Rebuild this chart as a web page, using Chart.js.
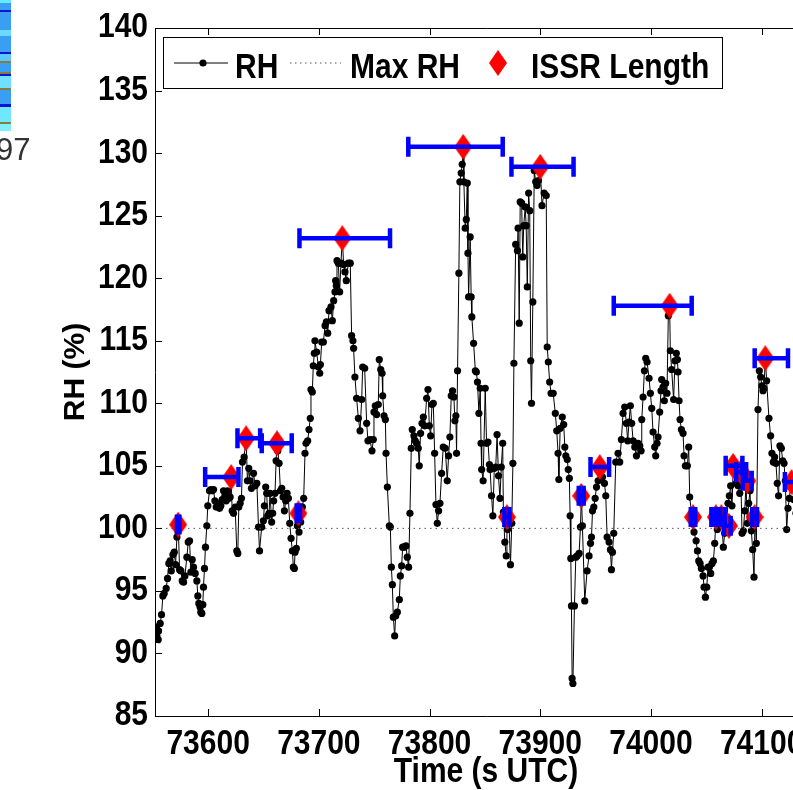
<!DOCTYPE html>
<html>
<head>
<meta charset="utf-8">
<script src="https://cdn.jsdelivr.net/npm/chart.js@4.4.0/dist/chart.umd.min.js"></script>
<style>
  html, body { margin: 0; padding: 0; background: #fff; overflow: hidden; }
  #wrap { position: relative; width: 793px; height: 790px; overflow: hidden; }
  #graph { position: absolute; left: 0; top: 0; }
  #strip {
    position: absolute; left: 0; top: 0; width: 11px; height: 131px;
    background: linear-gradient(to bottom,
      #66e8ff 0 3px, #3a9ef2 3px 10px, #0a14d8 10px 12px, #3a9ef2 12px 30px,
      #6fd8ff 30px 36px, #3a9ef2 36px 52px, #0a14d8 52px 54px, #5cc8ff 54px 61px,
      #8a7a3c 61px 63px, #3a9ef2 63px 72px, #8a7a3c 72px 74px, #0a14d8 74px 76px,
      #6fe0ff 76px 88px, #8a7a3c 88px 90px, #3a9ef2 90px 104px, #0a14d8 104px 107px,
      #6fe8ff 107px 122px, #8a7a3c 122px 124px, #7ff0ff 124px 131px);
  }
  #frag { position: absolute; left: -4px; top: 132px; font: 31px "Liberation Sans", Arial, sans-serif; color: #333; }
</style>
</head>
<body>
<div id="wrap">
  <canvas id="graph" width="817" height="790"></canvas>
  <div id="strip"></div>
  <div id="frag">97</div>
</div>
<script>
// RH samples (s UTC, %)
const rhTime = [
  73553.1, 73553.7, 73554.9, 73555.2, 73556.7, 73557.9, 73559.1, 73560.3, 73562.1, 73563.3,
  73564.5, 73565.7, 73566.7, 73568.2, 73569.4, 73570.6, 73571.8, 73573.0, 73574.2, 73575.4,
  73576.6, 73577.8, 73579.0, 73580.8, 73582.0, 73583.2, 73584.4, 73585.6, 73586.8, 73588.3,
  73589.8, 73590.7, 73591.6, 73592.8, 73593.4, 73594.3, 73595.2, 73595.8, 73596.7, 73597.6,
  73598.8, 73599.7, 73601.2, 73602.4, 73603.6, 73604.9, 73606.1, 73607.3, 73608.5, 73610.3,
  73611.5, 73612.7, 73613.9, 73615.1, 73616.3, 73617.5, 73618.7, 73619.9, 73620.8, 73621.7,
  73622.9, 73624.4, 73625.9, 73626.8, 73627.7, 73628.9, 73630.1, 73631.0, 73632.5, 73634.3,
  73635.5, 73636.7, 73637.9, 73639.1, 73641.0, 73642.5, 73644.0, 73645.5, 73646.4, 73648.4,
  73649.9, 73650.8, 73652.0, 73652.9, 73653.8, 73655.0, 73655.9, 73657.4, 73658.3, 73659.2,
  73660.4, 73661.4, 73662.3, 73662.9, 73664.1, 73665.3, 73666.5, 73667.7, 73668.9, 73670.1,
  73671.3, 73672.5, 73673.7, 73674.9, 73676.1, 73677.0, 73677.9, 73678.5, 73679.7, 73680.6,
  73681.5, 73682.1, 73683.6, 73685.1, 73686.3, 73687.5, 73688.4, 73689.9, 73691.1, 73692.3,
  73692.9, 73694.1, 73695.0, 73695.9, 73696.5, 73698.0, 73699.6, 73700.8, 73701.4, 73702.6,
  73704.1, 73705.6, 73706.8, 73708.0, 73709.2, 73711.0, 73712.2, 73713.4, 73714.6, 73715.2,
  73715.8, 73716.4, 73717.6, 73718.8, 73720.0, 73721.2, 73722.4, 73723.6, 73724.8, 73726.6,
  73728.4, 73729.6, 73730.8, 73731.4, 73732.6, 73734.1, 73735.7, 73737.2, 73738.7, 73739.6,
  73741.4, 73743.2, 73744.4, 73746.2, 73748.0, 73749.2, 73749.8, 73751.0, 73752.2, 73753.7,
  73754.6, 73755.9, 73757.1, 73757.7, 73758.9, 73760.1, 73760.7, 73761.9, 73763.7, 73764.6,
  73765.5, 73766.4, 73767.3, 73768.5, 73769.4, 73770.9, 73772.7, 73773.6, 73774.8, 73775.7,
  73776.9, 73778.7, 73779.9, 73781.1, 73782.3, 73783.5, 73784.4, 73785.9, 73787.1, 73788.3,
  73789.8, 73790.7, 73791.9, 73793.2, 73794.4, 73795.6, 73797.4, 73798.6, 73799.8, 73801.0,
  73802.2, 73803.4, 73804.6, 73805.8, 73807.0, 73808.2, 73809.4, 73810.9, 73812.4, 73814.2,
  73816.0, 73817.2, 73818.4, 73819.6, 73820.8, 73822.0, 73822.9, 73823.8, 73824.4, 73825.3,
  73826.5, 73827.4, 73828.6, 73829.5, 73830.4, 73831.0, 73832.2, 73833.2, 73834.1, 73834.7,
  73835.3, 73836.7, 73837.6, 73838.2, 73839.8, 73841.4, 73842.3, 73843.3, 73844.6, 73845.8,
  73846.5, 73847.1, 73848.4, 73850.3, 73851.5, 73852.8, 73854.1, 73854.7, 73856.0, 73857.2,
  73858.5, 73859.8, 73861.0, 73862.3, 73863.6, 73864.8, 73866.1, 73866.7, 73868.0, 73869.3,
  73869.9, 73870.5, 73871.8, 73873.1, 73874.3, 73875.3, 73876.2, 73877.8, 73879.4, 73880.0,
  73881.0, 73881.9, 73883.2, 73884.2, 73885.1, 73886.4, 73887.3, 73888.3, 73889.5, 73890.5,
  73891.4, 73892.1, 73893.3, 73894.6, 73895.9, 73897.1, 73898.4, 73900.0, 73901.6, 73903.5,
  73905.4, 73906.3, 73907.3, 73908.5, 73909.8, 73911.7, 73913.6, 73914.9, 73916.1, 73916.8,
  73918.0, 73919.9, 73921.2, 73922.2, 73923.1, 73924.4, 73925.3, 73926.3, 73927.0, 73927.6,
  73928.2, 73928.8, 73929.5, 73930.9, 73932.1, 73933.3, 73935.1, 73936.3, 73937.2, 73938.1,
  73940.2, 73942.3, 73944.1, 73945.4, 73946.3, 73947.2, 73948.4, 73949.6, 73950.8, 73952.3,
  73953.8, 73955.0, 73956.2, 73958.0, 73959.2, 73960.4, 73962.2, 73963.4, 73964.3, 73965.2,
  73966.4, 73968.2, 73970.3, 73971.8, 73973.3, 73974.8, 73976.3, 73977.8, 73979.0, 73980.2,
  73981.4, 73982.6, 73983.9, 73985.4, 73986.9, 73988.4, 73989.9, 73991.1, 73991.7, 73992.9,
  73994.1, 73995.3, 73996.5, 73998.3, 73999.5, 74000.7, 74001.9, 74003.4, 74004.3, 74005.5,
  74006.4, 74007.9, 74009.1, 74009.7, 74010.9, 74012.1, 74013.3, 74014.5, 74015.7, 74016.9,
  74017.5, 74018.7, 74020.5, 74021.7, 74022.9, 74023.9, 74024.5, 74025.4, 74026.3, 74027.5,
  74029.0, 74029.9, 74031.1, 74032.9, 74034.1, 74035.0, 74037.1, 74038.9, 74040.8, 74042.0,
  74043.2, 74044.4, 74045.6, 74047.1, 74048.0, 74049.2, 74050.4, 74051.6, 74052.8, 74054.0,
  74055.2, 74056.4, 74057.6, 74058.8, 74060.0, 74061.2, 74062.4, 74063.6, 74065.4, 74066.6,
  74068.1, 74069.6, 74070.8, 74072.0, 74073.2, 74074.4, 74075.6, 74077.1, 74078.7, 74080.2,
  74081.1, 74082.3, 74083.5, 74084.7, 74085.9, 74087.1, 74088.3, 74089.5, 74090.7, 74091.9,
  74093.1, 74094.0, 74095.2, 74096.7, 74097.9, 74099.1, 74100.3, 74101.2, 74102.1, 74103.3,
  74104.5, 74106.6, 74108.1, 74109.3, 74110.5, 74111.7, 74112.9, 74114.1, 74115.3, 74116.5,
  74117.8, 74119.0, 74120.2, 74121.4, 74122.6, 74123.8, 74125.0, 74126.2, 74127.3, 74129.0,
  74131.0
];
const rhValue = [
  92.1, 91.4, 91.1, 91.8, 92.4, 93.1, 94.6, 94.8, 95.2, 96.0,
  97.2, 97.4, 96.6, 97.9, 98.1, 97.1, 99.3, 100.3, 96.7, 96.6,
  95.8, 95.7, 96.2, 97.7, 98.9, 99.0, 96.5, 97.5, 96.9, 96.4,
  95.8, 94.6, 94.0, 93.7, 93.3, 93.2, 93.9, 95.3, 96.8, 98.5,
  100.2, 101.8, 103.0, 103.1, 103.0, 103.1, 102.2, 101.7, 102.0, 101.6,
  101.8, 102.3, 103.0, 102.6, 102.2, 103.0, 102.4, 102.5, 104.0, 101.4,
  101.2, 101.7, 98.2, 98.0, 101.7, 102.0, 102.4, 105.3, 105.7, 107.2,
  103.8, 104.8, 103.8, 103.2, 104.4, 103.4, 103.6, 100.1, 98.2, 100.1,
  100.6, 101.8, 103.3, 102.8, 101.0, 101.2, 102.8, 100.5, 101.2, 102.2,
  102.8, 105.4, 106.8, 106.2, 105.2, 103.0, 103.2, 102.5, 101.4, 102.2,
  102.8, 102.4, 100.4, 99.2, 98.2, 96.9, 96.8, 98.1, 98.4, 100.2,
  101.2, 99.7, 100.5, 101.7, 102.4, 106.0, 106.8, 107.0, 107.9, 108.8,
  111.1, 110.9, 113.0, 114.0, 115.0, 114.1, 112.9, 112.4, 113.1, 114.9,
  114.9, 116.2, 116.5, 115.6, 117.4, 117.7, 116.6, 118.2, 118.9, 119.8,
  119.4, 121.4, 121.2, 118.9, 121.2, 123.2, 121.1, 120.5, 119.8, 121.2,
  121.2, 115.4, 115.0, 114.4, 112.1, 110.4, 108.8, 107.8, 110.3, 112.9,
  112.8, 108.4, 107.0, 107.1, 106.2, 107.1, 109.3, 109.8, 109.1, 109.9,
  113.5, 112.7, 112.4, 110.6, 109.0, 108.7, 106.0, 103.3, 100.2, 100.1,
  96.9, 95.5, 92.9, 91.4, 93.0, 93.3, 94.3, 96.2, 97.0, 98.5,
  98.5, 98.6, 97.7, 96.9, 101.2, 106.4, 107.9, 107.4, 107.0, 106.8,
  106.4, 105.0, 107.6, 108.4, 108.9, 108.2, 110.4, 111.1, 108.2, 107.4,
  109.9, 110.0, 106.0, 101.9, 100.4, 101.4, 102.0, 104.4, 106.5, 106.4,
  103.8, 105.8, 107.3, 110.6, 111.0, 110.5, 108.6, 109.0, 106.0, 112.6,
  120.4, 127.7, 128.4, 129.1, 130.4, 127.7, 124.0, 124.7, 127.6, 122.0,
  118.5, 123.3, 118.5, 116.9, 114.8, 112.6, 112.5, 111.7, 109.2, 111.2,
  106.8, 104.7, 103.8, 111.2, 106.8, 106.9, 105.1, 104.7, 102.6, 101.0,
  104.8, 104.9, 107.5, 104.2, 102.4, 104.9, 106.8, 101.3, 98.9, 97.8,
  100.8, 99.9, 100.6, 97.1, 100.4, 105.2, 113.2, 122.7, 122.2, 124.0,
  116.4, 126.1, 126.0, 121.7, 124.2, 125.7, 124.2, 119.3, 126.8, 125.4,
  113.4, 110.0, 118.1, 128.6, 127.7, 127.4, 127.8, 128.9, 125.8, 126.8,
  126.6, 114.5, 113.3, 111.7, 110.8, 110.8, 109.2, 107.8, 106.0, 103.9,
  108.0, 108.9, 108.3, 106.5, 105.8, 105.5, 104.7, 104.0, 101.0, 97.6,
  93.8, 88.0, 87.6, 93.8, 97.7, 97.8, 98.0, 100.1, 102.6, 100.2,
  94.2, 96.6, 97.8, 98.8, 99.3, 101.4, 101.7, 102.4, 103.3, 103.8,
  104.9, 104.1, 104.1, 103.6, 102.6, 99.3, 98.9, 98.3, 96.7, 98.1,
  99.6, 105.3, 106.0, 105.3, 107.1, 109.2, 109.7, 108.4, 107.0, 108.5,
  109.8, 108.4, 107.0, 106.5, 105.8, 106.8, 106.6, 106.2, 108.7, 110.5,
  112.6, 113.6, 113.3, 112.0, 110.8, 109.6, 107.7, 106.5, 105.8, 106.8,
  107.3, 109.3, 111.0, 111.9, 111.3, 110.2, 111.6, 110.8, 117.0, 117.8,
  114.2, 112.7, 110.3, 113.4, 114.0, 113.5, 112.5, 110.2, 108.7, 107.9,
  107.6, 105.8, 105.0, 105.0, 106.5, 102.5, 100.9, 99.7, 99.0, 98.2,
  97.4, 97.2, 96.8, 96.2, 95.3, 94.5, 95.3, 96.9, 96.9, 96.4,
  97.2, 97.4, 98.8, 100.8, 99.9, 100.4, 100.7, 101.0, 98.5, 99.6,
  100.2, 102.0, 102.6, 103.4, 101.8, 104.9, 104.5, 103.6, 103.4, 102.8,
  104.3, 99.6, 99.8, 101.4, 103.6, 100.4, 102.0, 103.0, 99.8, 98.3,
  96.1, 100.9, 98.8, 109.5, 112.6, 112.1, 111.4, 111.0, 111.2, 113.6,
  111.8, 108.8, 107.4, 106.0, 105.3, 105.7, 105.2, 103.6, 102.6, 106.6,
  106.4, 105.4, 105.2, 103.8, 99.9, 101.6, 102.4, 103.3, 103.7, 102.3,
  101.2
];

const maxRH = 100;

// ISSR segments: peak time, peak RH, start and end of the segment
const issrTime  = [73572.9, 73620.8, 73634.3, 73662.2, 73681.5, 73721.2, 73830.4, 73869.9, 73900.0, 73937.0, 73953.8,
                   74016.9, 74038.0, 74058.6, 74063.6, 74070.5, 74074.2, 74081.5, 74087.0, 74093.7, 74103.3, 74127.0];
const issrRH    = [100.3, 104.1, 107.2, 106.8, 101.2, 123.2, 130.5, 100.9, 128.9, 102.6, 104.9,
                   117.8, 100.9, 100.9, 100.9, 100.2, 105.0, 104.5, 103.8, 100.9, 113.6, 103.7];
const issrStart = [73571.8, 73597.3, 73626.5, 73648.4, 73680.0, 73682.5, 73780.8, 73867.6, 73874.0, 73934.8, 73945.4,
                   73966.4, 74036.0, 74054.6, 74058.5, 74066.0, 74067.5, 74077.0, 74083.0, 74091.5, 74093.7, 74121.0];
const issrEnd   = [73574.0, 73627.4, 73647.0, 73675.5, 73683.0, 73764.3, 73866.1, 73872.2, 73930.1, 73939.2, 73962.2,
                   74036.8, 74040.0, 74062.1, 74066.6, 74072.0, 74082.6, 74086.0, 74091.0, 74095.8, 74123.8, 74140.0];

const xTicks = [73600, 73700, 73800, 73900, 74000, 74100];
const yTicks = [85, 90, 95, 100, 105, 110, 115, 120, 125, 130, 135, 140];
const xMin = 73552, xMax = 74150;

const FAMILY = '"Liberation Sans", Arial, Helvetica, sans-serif';
const FONT = 'bold 30px ' + FAMILY;
const STRETCH = 1.14; // the original lettering is taller than Arial

const rhPoints = rhTime.map((t, i) => ({ x: t, y: rhValue[i] }));
const issrPoints = issrTime.map((t, i) => ({ x: t, y: issrRH[i] }));

// tall red diamond marker
const diamond = document.createElement('canvas');
diamond.width = 18;
diamond.height = 26;
const dc = diamond.getContext('2d');
dc.fillStyle = '#ff0000';
dc.beginPath();
dc.moveTo(9, 0); dc.lineTo(18, 13); dc.lineTo(9, 26); dc.lineTo(0, 13);
dc.closePath();
dc.fill();

function tallText(ctx, text, x, y, align, baseline) {
  ctx.save();
  ctx.translate(x, y);
  ctx.scale(1, STRETCH);
  ctx.textAlign = align;
  ctx.textBaseline = baseline;
  ctx.fillText(text, 0, 0);
  ctx.restore();
}

const framePlugin = {
  id: 'frame',
  afterDatasetsDraw(chart) {
    const ctx = chart.ctx;
    const xs = chart.scales.x, ys = chart.scales.y;
    // blue ISSR length bars
    ctx.save();
    ctx.strokeStyle = '#0000ff';
    ctx.lineWidth = 4.5;
    for (let i = 0; i < issrTime.length; i++) {
      const y = ys.getPixelForValue(issrRH[i]);
      const x0 = xs.getPixelForValue(issrStart[i]);
      const x1 = xs.getPixelForValue(issrEnd[i]);
      ctx.beginPath();
      ctx.moveTo(x0, y); ctx.lineTo(x1, y);
      ctx.moveTo(x0, y - 10); ctx.lineTo(x0, y + 10);
      ctx.moveTo(x1, y - 10); ctx.lineTo(x1, y + 10);
      ctx.stroke();
    }
    ctx.restore();
  },
  afterDraw(chart) {
    const ctx = chart.ctx;
    const a = chart.chartArea;
    const xs = chart.scales.x, ys = chart.scales.y;
    ctx.save();
    // axes box with inward ticks
    ctx.strokeStyle = '#000';
    ctx.lineWidth = 1;
    ctx.beginPath();
    ctx.moveTo(a.right, a.top + 0.5); ctx.lineTo(a.left + 0.5, a.top + 0.5);
    ctx.lineTo(a.left + 0.5, a.bottom + 0.5); ctx.lineTo(a.right, a.bottom + 0.5);
    xs.ticks.forEach(t => {
      const px = Math.round(xs.getPixelForValue(t.value)) + 0.5;
      ctx.moveTo(px, a.bottom); ctx.lineTo(px, a.bottom - 7);
      ctx.moveTo(px, a.top); ctx.lineTo(px, a.top + 7);
    });
    ys.ticks.forEach(t => {
      const py = Math.round(ys.getPixelForValue(t.value)) + 0.5;
      ctx.moveTo(a.left, py); ctx.lineTo(a.left + 7, py);
    });
    ctx.stroke();

    // tick labels and x title
    ctx.fillStyle = '#000';
    ctx.font = FONT;
    xs.ticks.forEach(t => tallText(ctx, String(t.value), xs.getPixelForValue(t.value), 745, 'center', 'middle'));
    ys.ticks.forEach(t => tallText(ctx, String(t.value), a.left - 7, ys.getPixelForValue(t.value), 'right', 'middle'));
    tallText(ctx, 'Time (s UTC)', (a.left + a.right) / 2, 773, 'center', 'middle');

    // legend
    const lx = 163.5, ly = 37.5, lw = 559, lh = 51, cy = 63;
    ctx.fillStyle = '#fff';
    ctx.fillRect(lx, ly, lw, lh);
    ctx.strokeRect(lx, ly, lw, lh);
    ctx.beginPath();
    ctx.moveTo(174, cy); ctx.lineTo(228, cy);
    ctx.stroke();
    ctx.fillStyle = '#000';
    ctx.beginPath();
    ctx.arc(203, cy, 3.6, 0, Math.PI * 2);
    ctx.fill();
    ctx.strokeStyle = '#555';
    ctx.setLineDash([1.5, 3.5]);
    ctx.beginPath();
    ctx.moveTo(290, cy); ctx.lineTo(341, cy);
    ctx.stroke();
    ctx.setLineDash([]);
    ctx.drawImage(diamond, 498 - 9, cy - 13);
    ctx.font = FONT;
    tallText(ctx, 'RH', 235, 78, 'left', 'alphabetic');
    tallText(ctx, 'Max RH', 350, 78, 'left', 'alphabetic');
    tallText(ctx, 'ISSR Length', 531, 78, 'left', 'alphabetic');
    ctx.restore();
  }
};

new Chart(document.getElementById('graph'), {
  type: 'scatter',
  data: {
    datasets: [
      {
        label: 'RH',
        data: rhPoints,
        showLine: true,
        borderColor: '#000',
        borderWidth: 1,
        pointRadius: 3.6,
        pointBackgroundColor: '#000',
        pointBorderWidth: 0,
        order: 3
      },
      {
        label: 'Max RH',
        data: [{ x: xMin, y: maxRH }, { x: xMax, y: maxRH }],
        showLine: true,
        borderColor: '#555',
        borderWidth: 1,
        borderDash: [1.5, 4],
        pointRadius: 0,
        order: 2
      },
      {
        label: 'ISSR Length',
        data: issrPoints,
        pointStyle: diamond,
        pointRadius: 9,
        order: 1
      }
    ]
  },
  options: {
    responsive: false,
    animation: false,
    devicePixelRatio: 1,
    layout: { padding: { top: 28, left: 0, right: 0, bottom: 0 }, autoPadding: false },
    plugins: {
      legend: { display: false },
      tooltip: { enabled: false }
    },
    scales: {
      x: {
        type: 'linear',
        min: xMin,
        max: xMax,
        afterFit: s => { s.height = 74; },
        afterBuildTicks: s => { s.ticks = xTicks.map(v => ({ value: v })); },
        grid: { display: false, drawTicks: false },
        border: { display: false },
        ticks: { display: false }
      },
      y: {
        min: 85,
        max: 140,
        afterFit: s => { s.width = 155; },
        afterBuildTicks: s => { s.ticks = yTicks.map(v => ({ value: v })); },
        grid: { display: false, drawTicks: false },
        border: { display: false },
        ticks: { display: false },
        title: {
          display: true,
          text: 'RH (%)',
          color: '#000',
          font: { family: FAMILY, size: 30, weight: 'bold' },
          padding: { top: 58, bottom: 0 }
        }
      }
    }
  },
  plugins: [framePlugin]
});
</script>
</body>
</html>
